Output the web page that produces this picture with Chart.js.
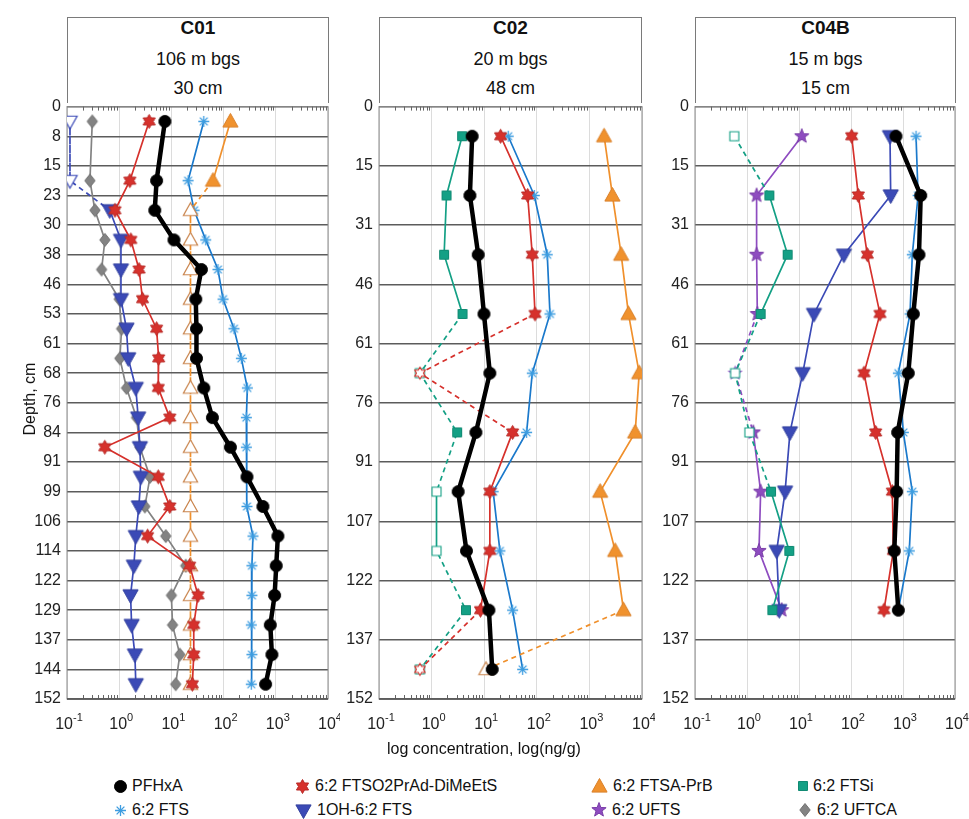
<!DOCTYPE html>
<html>
<head>
<meta charset="utf-8">
<script src="https://cdn.jsdelivr.net/npm/chart.js@4.4.1/dist/chart.umd.min.js"></script>
<style>
body { margin: 0; background: #fff; font-family: "Liberation Sans", Arial, sans-serif; color: #111; }
#wrap { position: relative; width: 969px; height: 819px; overflow: hidden; }
canvas.ch { position: absolute; }
.box { position: absolute; top: 17px; height: 86px; border: 1px solid #7a7a7a; border-bottom: none; box-sizing: border-box; }
.box div { position: absolute; left: 0; right: 0; text-align: center; font-size: 18px; }
.box .t { font-weight: bold; font-size: 19px; top: -1px; }
.box .a { top: 31px; }
.box .b { top: 60px; }
.lab { position: absolute; font-size: 16px; white-space: nowrap; }
.leg { position: absolute; font-size: 16px; white-space: nowrap; display: flex; align-items: center; }
.leg canvas { margin-right: 3px; }
</style>
</head>
<body>
<div id="wrap">
  <div class="box" style="left:67px;width:262px"><div class="t">C01</div><div class="a">106 m bgs</div><div class="b">30 cm</div></div>
  <div class="box" style="left:379px;width:263px"><div class="t">C02</div><div class="a">20 m bgs</div><div class="b">48 cm</div></div>
  <div class="box" style="left:695px;width:261px"><div class="t">C04B</div><div class="a">15 m bgs</div><div class="b">15 cm</div></div>
  <canvas class="ch" id="c01" width="340" height="648" style="left:0;top:91px"></canvas>
  <canvas class="ch" id="c02" width="325" height="648" style="left:330px;top:91px"></canvas>
  <canvas class="ch" id="c04" width="319" height="648" style="left:650px;top:91px"></canvas>
  <div class="lab" style="left:-20px;top:390px;transform:rotate(-90deg);transform-origin:center;width:100px;text-align:center">Depth, cm</div>
  <div class="lab" style="left:384px;top:740px;width:200px;text-align:center">log concentration, log(ng/g)</div>
  <div id="legend"></div>
</div>
<script>
// x axis: decades 10^-1 .. 10^4
const xTicks = [0.1, 1, 10, 100, 1000, 10000];
const xExp = ['-1', '0', '1', '2', '3', '4'];

// y axis ticks (cm) and their printed labels
const yTicksC01 = [0, 7.62, 15.24, 22.86, 30.48, 38.1, 45.72, 53.34, 60.96, 68.58, 76.2, 83.82, 91.44, 99.06, 106.68, 114.3, 121.92, 129.54, 137.16, 144.78, 152.4];
const yLabelsC01 = ['0', '8', '15', '23', '30', '38', '46', '53', '61', '68', '76', '84', '91', '99', '106', '114', '122', '129', '137', '144', '152'];
const yTicksC02 = [0, 15.24, 30.48, 45.72, 60.96, 76.2, 91.44, 106.68, 121.92, 137.16, 152.4];
const yLabelsC02 = ['0', '15', '31', '46', '61', '76', '91', '107', '122', '137', '152'];

// sample depths
const depthC01 = [3.81, 19.05, 26.67, 34.29, 41.91, 49.53, 57.15, 64.77, 72.39, 80.01, 87.63, 95.25, 102.87, 110.49, 118.11, 125.73, 133.35, 140.97, 148.59];
const depthC02 = [7.62, 22.86, 38.1, 53.34, 68.58, 83.82, 99.06, 114.3, 129.54, 144.78];
const depthC04 = [7.62, 22.86, 38.1, 53.34, 68.58, 83.82, 99.06, 114.3, 129.54];

// C01 (ng/g)
const c01PFHxA = [7.5, 5.2, 4.8, 11.2, 37.6, 29.3, 30.2, 30.2, 41.7, 61, 135, 280, 566, 1096, 1020, 949, 785, 842, 638];
const c01FTSO2 = [3.75, 1.6, 0.83, 1.67, 2.4, 2.8, 5.2, 5.7, 5.6, 9.3, 0.53, 5.6, 9.3, 3.5, 22.4, 32.4, 26.8, 26.8, 25.2];
const c01FTSAPrB = [135, 62.6, 23.2, 23.2, 23.2, 23.2, 23.2, 23.2, 23.2, 23.2, 23.2, 23.2, 23.2, 23.2, 23.2, 23.2, 23.2, 23.2, 23.2];
const c01FTSAPrBnd = [2, 3, 4, 5, 6, 7, 8, 9, 10, 11, 12, 13, 14, 15, 16, 17, 18];
const c01FTS = [41.7, 20.9, 27.2, 45.5, 78, 97.5, 158, 219, 285, 273, 273, 280, 280, 365, 349, 349, 339, 349, 339];
const c01OH = [0.114, 0.114, 0.66, 1.08, 1.08, 1.08, 1.38, 1.49, 2.08, 2.31, 2.49, 2.6, 2.38, 2.08, 1.91, 1.65, 1.73, 2.0, 2.08];
const c01OHnd = [0, 1];
const c01UFTCA = [0.305, 0.275, 0.343, 0.533, 0.46, 1.0, 1.11, 1.03, 1.38, 2.15, 2.49, 3.9, 3.1, 7.8, 18.8, 10, 10.5, 14.5, 12.1];

// C02 (ng/g)
const c02PFHxA = [5.9, 5.35, 7.7, 9.9, 12.8, 6.95, 3.2, 4.6, 12.3, 14.2];
const c02FTSO2 = [20.5, 67, 82, 92.5, 0.6, 34.7, 12.8, 12.8, 8.5, 0.6];
const c02FTSO2nd = [4, 9];
const c02FTSAPrB = [1905, 2740, 4020, 5530, 8850, 7420, 1600, 3090, 4450, 10.8];
const c02FTSAPrBnd = [9];
const c02FTSi = [3.8, 1.92, 1.73, 3.87, 0.6, 3.06, 1.24, 1.24, 4.5, 0.6];
const c02FTSind = [4, 6, 7, 9];
const c02FTS = [28.6, 89.6, 158, 178, 82, 64, 14.8, 19.9, 34.7, 53.8];

// C04B (ng/g)
const c04PFHxA = [733, 2190, 2030, 1580, 1265, 790, 755, 680, 813];
const c04FTSO2 = [103, 138, 206, 361, 178, 298, 624, 652, 431];
const c04FTSi = [0.57, 2.69, 6.05, 1.83, 0.59, 1.11, 2.9, 6.5, 3.07];
const c04FTSind = [0, 4, 5];
const c04FTS = [1780, 1950, 1510, 1365, 813, 1015, 1510, 1320, 813];
const c04OH = [562, 580, 73, 19.4, 11.8, 6.7, 5.4, 3.72, 4.18];
const c04UFTS = [11.3, 1.53, 1.53, 1.58, 0.59, 1.32, 1.83, 1.7, 4.64];
const c04UFTSnd = [4];

// draw a marker into a small canvas, used as pointStyle
function marker(shape, r, fill, stroke, lw) {
    const s = Math.ceil(2 * r + lw + 4);
    const c = document.createElement('canvas');
    c.width = s; c.height = s;
    const g = c.getContext('2d');
    g.translate(s / 2, s / 2);
    g.lineWidth = lw; g.strokeStyle = stroke; g.fillStyle = fill;
    g.beginPath();
    if (shape === 'circle') {
        g.arc(0, 0, r, 0, Math.PI * 2);
    } else if (shape === 'tri' || shape === 'down') {
        const k = shape === 'tri' ? 1 : -1;
        g.moveTo(0, -r * k); g.lineTo(r * 0.95, r * 0.7 * k); g.lineTo(-r * 0.95, r * 0.7 * k); g.closePath();
    } else if (shape === 'square') {
        g.rect(-r, -r, 2 * r, 2 * r);
    } else if (shape === 'diamond') {
        g.moveTo(0, -r); g.lineTo(r * 0.8, 0); g.lineTo(0, r); g.lineTo(-r * 0.8, 0); g.closePath();
    } else if (shape === 'star6' || shape === 'star5') {
        const n = shape === 'star6' ? 6 : 5;
        const inner = shape === 'star6' ? 0.58 : 0.42;
        for (let i = 0; i < n * 2; i++) {
            const rr = i % 2 ? r * inner : r;
            const a = -Math.PI / 2 + i * Math.PI / n;
            g.lineTo(rr * Math.cos(a), rr * Math.sin(a));
        }
        g.closePath();
    } else if (shape === 'aster') {
        for (let i = 0; i < 4; i++) {
            const a = i * Math.PI / 4;
            g.moveTo(-r * Math.cos(a), -r * Math.sin(a));
            g.lineTo(r * Math.cos(a), r * Math.sin(a));
        }
        g.stroke();
        return c;
    }
    if (fill) g.fill();
    g.stroke();
    return c;
}

const styles = {
    pfhxa: { line: '#000', lw: 4.5, fill: marker('circle', 6, '#000', '#000', 1) },
    ftso2: { line: '#d6312c', lw: 1.7, fill: marker('star6', 7, '#d6312c', '#b82a27', 1), open: marker('star6', 6, '#fff', '#d6312c', 1.1) },
    ftsa: { line: '#f0902c', lw: 1.7, fill: marker('tri', 8, '#f0922e', '#d9802a', 1), open: marker('tri', 7.5, '#fff', '#c9844c', 1.2) },
    ftsi: { line: '#14a085', lw: 1.7, fill: marker('square', 4.5, '#14a085', '#118a73', 1), open: marker('square', 4.5, '#fff', '#14a085', 1.1) },
    fts: { line: '#1b79cb', lw: 1.7, fill: marker('aster', 5.5, null, '#3e9de0', 1.3) },
    oh: { line: '#3b4ab6', lw: 1.7, fill: marker('down', 8, '#3b4ab6', '#33419e', 1), open: marker('down', 7.5, '#fff', '#3b4ab6', 1.2) },
    ufts: { line: '#8e4cc0', lw: 1.7, fill: marker('star5', 7.5, '#8e4cc0', '#7a3ea8', 1), open: marker('star5', 6.5, '#fff', '#8e4cc0', 1.1) },
    uftca: { line: '#838383', lw: 1.7, fill: marker('diamond', 6.5, '#838383', '#707070', 1) }
};

function series(xs, depth, st, nd) {
    const open = new Set(nd || []);
    return {
        data: xs.map((v, i) => ({ x: v, y: depth[i] })),
        borderColor: st.line,
        borderWidth: st.lw,
        pointRadius: 4,
        pointStyle: ctx => open.has(ctx.dataIndex) ? st.open : st.fill,
        segment: {
            borderDash: ctx => (open.has(ctx.p0DataIndex) || open.has(ctx.p1DataIndex)) ? [5, 4] : undefined
        },
        tension: 0,
        fill: false
    };
}

const framePlugin = {
    id: 'frame',
    beforeDatasetsDraw(chart) {
        const { ctx, chartArea: a, scales: { x } } = chart;
        ctx.save();
        ctx.strokeStyle = '#8a8a8a';
        ctx.lineWidth = 1;
        ctx.strokeRect(a.left, a.top, a.right - a.left, a.bottom - a.top);
        ctx.strokeStyle = '#666';
        ctx.beginPath();
        for (let d = 0; d < xTicks.length - 1; d++) {
            for (let m = 2; m <= 9; m++) {
                const px = Math.round(x.getPixelForValue(xTicks[d] * m)) + 0.5;
                ctx.moveTo(px, a.bottom); ctx.lineTo(px, a.bottom - 4);
                ctx.moveTo(px, a.top); ctx.lineTo(px, a.top + 4);
            }
        }
        ctx.stroke();
        ctx.strokeStyle = '#555';
        ctx.lineWidth = 1.5;
        ctx.beginPath();
        ctx.moveTo(a.left, a.bottom); ctx.lineTo(a.right, a.bottom);
        ctx.stroke();
        // x tick labels 10 with superscript exponent
        ctx.fillStyle = '#222';
        ctx.textBaseline = 'alphabetic';
        xTicks.forEach((v, i) => {
            const px = x.getPixelForValue(v);
            ctx.font = '16px "Liberation Sans", Arial, sans-serif';
            const w1 = ctx.measureText('10').width;
            ctx.font = '11px "Liberation Sans", Arial, sans-serif';
            const w2 = ctx.measureText(xExp[i]).width;
            const x0 = px - (w1 + w2) / 2 + 2;
            ctx.font = '16px "Liberation Sans", Arial, sans-serif';
            ctx.fillText('10', x0, a.bottom + 30);
            ctx.font = '11px "Liberation Sans", Arial, sans-serif';
            ctx.fillText(xExp[i], x0 + w1, a.bottom + 22);
        });
        ctx.restore();
    }
};

function makeChart(id, yTicks, yLabels, yWidth, padRight, datasets) {
    new Chart(document.getElementById(id), {
        type: 'line',
        data: { datasets: datasets },
        options: {
            indexAxis: 'y',
            responsive: false,
            animation: false,
            layout: { padding: { top: 12, right: padRight, bottom: 0, left: 0 } },
            plugins: { legend: { display: false }, tooltip: { enabled: false } },
            scales: {
                x: {
                    type: 'logarithmic', min: 0.1, max: 10000, position: 'bottom',
                    afterBuildTicks: s => { s.ticks = xTicks.map(v => ({ value: v })); },
                    afterFit: s => { s.height = 40; },
                    ticks: { callback: () => '', autoSkip: false },
                    grid: { color: '#dcdcdc', lineWidth: 1, drawTicks: false },
                    border: { display: false }
                },
                y: {
                    type: 'linear', reverse: true, min: 0, max: 152.4,
                    afterBuildTicks: s => { s.ticks = yTicks.map(v => ({ value: v })); },
                    afterFit: s => { s.width = yWidth; },
                    ticks: {
                        callback: (v, i) => yLabels[i], autoSkip: false, padding: 6,
                        color: '#222', font: { size: 16, family: '"Liberation Sans", Arial, sans-serif' }
                    },
                    grid: { color: '#5c5c5c', lineWidth: 1.4, drawTicks: false },
                    border: { display: false }
                }
            }
        },
        plugins: [framePlugin]
    });
}

makeChart('c01', yTicksC01, yLabelsC01, 67, 12, [
    series(c01PFHxA, depthC01, styles.pfhxa),
    series(c01FTSO2, depthC01, styles.ftso2),
    series(c01FTSAPrB, depthC01, styles.ftsa, c01FTSAPrBnd),
    series(c01FTS, depthC01, styles.fts),
    series(c01OH, depthC01, styles.oh, c01OHnd),
    series(c01UFTCA, depthC01, styles.uftca)
]);

makeChart('c02', yTicksC02, yLabelsC02, 49, 13, [
    series(c02PFHxA, depthC02, styles.pfhxa),
    series(c02FTSO2, depthC02, styles.ftso2, c02FTSO2nd),
    series(c02FTSAPrB, depthC02, styles.ftsa, c02FTSAPrBnd),
    series(c02FTSi, depthC02, styles.ftsi, c02FTSind),
    series(c02FTS, depthC02, styles.fts)
]);

makeChart('c04', yTicksC02, yLabelsC02, 45, 14, [
    series(c04PFHxA, depthC04, styles.pfhxa),
    series(c04FTSO2, depthC04, styles.ftso2),
    series(c04FTSi, depthC04, styles.ftsi, c04FTSind),
    series(c04FTS, depthC04, styles.fts),
    series(c04OH, depthC04, styles.oh),
    series(c04UFTS, depthC04, styles.ufts, c04UFTSnd)
]);

// legend
const legendNames = ['PFHxA', '6:2 FTSO2PrAd-DiMeEtS', '6:2 FTSA-PrB', '6:2 FTSi', '6:2 FTS', '1OH-6:2 FTS', '6:2 UFTS', '6:2 UFTCA'];
const legendKeys = ['pfhxa', 'ftso2', 'ftsa', 'ftsi', 'fts', 'oh', 'ufts', 'uftca'];
const legendX = [112, 293, 589, 796];
const legendY = [775, 799];
const legendEl = document.getElementById('legend');
legendNames.forEach((name, i) => {
    const item = document.createElement('div');
    item.className = 'leg';
    item.style.left = legendX[i % 4] + 'px';
    item.style.top = legendY[Math.floor(i / 4)] + 'px';
    item.style.height = '22px';
    const st = styles[legendKeys[i]];
    const c = st.fill;
    const mk = document.createElement('canvas');
    mk.width = c.width; mk.height = c.height;
    mk.getContext('2d').drawImage(c, 0, 0);
    item.appendChild(mk);
    const t = document.createElement('span');
    t.textContent = name;
    item.appendChild(t);
    legendEl.appendChild(item);
});
</script>
</body>
</html>
